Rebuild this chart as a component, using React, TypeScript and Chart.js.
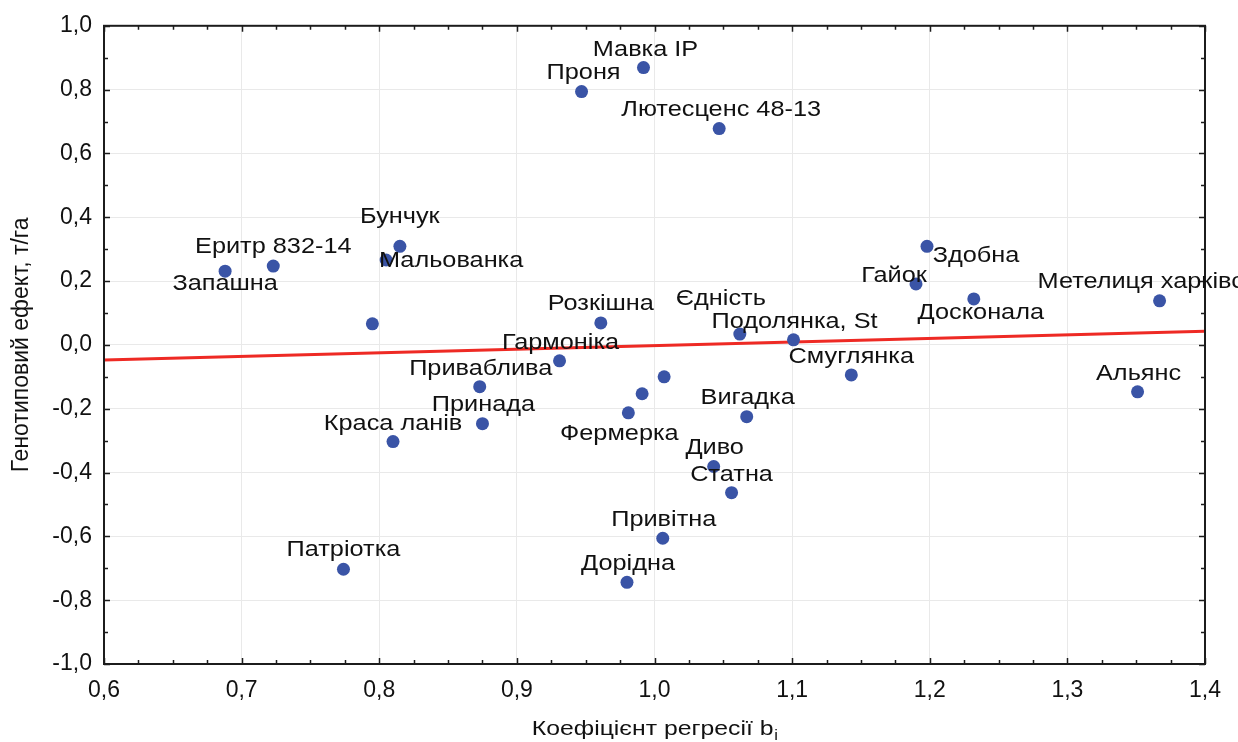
import { useEffect, useRef } from 'react';
import { Chart, registerables } from 'chart.js';

Chart.register(...registerables);

// Variety names (empty string = point without a caption)
const varieties = [
  'Мавка IP', 'Проня', 'Лютесценс 48-13', 'Бунчук', 'Мальованка', 'Еритр 832-14', 'Запашна', '',
  'Розкішна', 'Єдність', 'Подолянка, St', 'Гармоніка', 'Приваблива', 'Принада', 'Краса ланів',
  'Патріотка', '', '', 'Фермерка', 'Вигадка', 'Диво', 'Статна', 'Привітна', 'Дорідна',
  'Смуглянка', 'Альянс', 'Метелиця харківська', 'Здобна', 'Гайок', 'Досконала',
];

// Regression coefficient b_i
const regressionCoef = [
  0.992, 0.947, 1.047, 0.815, 0.805, 0.723, 0.688, 0.795,
  0.961, 1.062, 1.101, 0.931, 0.873, 0.875, 0.810,
  0.774, 1.007, 0.991, 0.981, 1.067, 1.043, 1.056, 1.006, 0.980,
  1.143, 1.351, 1.367, 1.198, 1.190, 1.232,
];

// Genotypic effect, t/ha
const genotypeEffect = [
  0.869, 0.794, 0.678, 0.309, 0.266, 0.247, 0.231, 0.066,
  0.069, 0.034, 0.016, -0.050, -0.131, -0.247, -0.303,
  -0.703, -0.100, -0.153, -0.213, -0.225, -0.381, -0.463, -0.606, -0.744,
  -0.094, -0.147, 0.138, 0.309, 0.191, 0.144,
];

// Fitted trend line
const trendX = [0.6, 1.4];
const trendY = [-0.047, 0.043];

// Axis ranges
const xRange = [0.6, 1.4];
const yRange = [-1.0, 1.0];

// Caption placement relative to each point: [dx, dy, align]
const captionPlacement: [number, number, CanvasTextAlign][] = [
  [2, -18, 'center'], [2, -19, 'center'], [2, -19, 'center'], [0, -29, 'center'],
  [65, 1, 'center'], [0, -19, 'center'], [0, 13, 'center'], [0, 0, 'center'],
  [0, -19, 'center'], [-19, -35, 'center'], [1, -18, 'center'], [1, -18, 'center'],
  [1, -18, 'center'], [1, -19, 'center'], [0, -18, 'center'],
  [0, -19, 'center'], [0, 0, 'center'], [0, 0, 'center'], [-9, 21, 'center'],
  [1, -19, 'center'], [1, -19, 'center'], [0, -18, 'center'], [1, -18, 'center'],
  [1, -18, 'center'], [0, -18, 'center'], [1, -18, 'center'], [-122, -19, 'left'],
  [49, 10, 'center'], [-22, -8, 'center'], [7, 14, 'center'],
];

const FONT = '"Liberation Sans", Arial, sans-serif';
const fmt = (v: number) => (Math.round(v * 10) / 10).toFixed(1).replace('.', ',');

const framePlugin = {
  id: 'frameAndCaptions',
  afterDraw(chart: any) {
    const { ctx, chartArea, scales } = chart;
    const { left, right, top, bottom } = chartArea;
    const xs = scales.x;
    const ys = scales.y;
    ctx.save();

    // frame
    ctx.strokeStyle = '#1c1c1c';
    ctx.lineWidth = 2;
    ctx.strokeRect(left, top, right - left, bottom - top);

    // inward tick marks
    ctx.lineWidth = 1.5;
    ctx.beginPath();
    const nx = Math.round((xRange[1] - xRange[0]) / 0.025);
    for (let i = 0; i <= nx; i++) {
      const px = Math.round(xs.getPixelForValue(xRange[0] + i * 0.025)) + 0.5;
      const len = i % 4 === 0 ? 6 : 4;
      ctx.moveTo(px, bottom);
      ctx.lineTo(px, bottom - len);
      ctx.moveTo(px, top);
      ctx.lineTo(px, top + len);
    }
    const ny = Math.round((yRange[1] - yRange[0]) / 0.1);
    for (let i = 0; i <= ny; i++) {
      const py = Math.round(ys.getPixelForValue(yRange[0] + i * 0.1)) + 0.5;
      const len = i % 2 === 0 ? 6 : 4;
      ctx.moveTo(left, py);
      ctx.lineTo(left + len, py);
      ctx.moveTo(right, py);
      ctx.lineTo(right - len, py);
    }
    ctx.stroke();

    // point captions
    ctx.fillStyle = '#111';
    ctx.font = `22px ${FONT}`;
    ctx.textBaseline = 'middle';
    varieties.forEach((name, i) => {
      if (!name) return;
      const [dx, dy, align] = captionPlacement[i];
      const px = xs.getPixelForValue(regressionCoef[i]) + dx;
      const py = ys.getPixelForValue(genotypeEffect[i]) + dy;
      ctx.save();
      ctx.translate(px, py);
      ctx.scale(1.15, 1);
      ctx.textAlign = align;
      ctx.fillText(name, 0, 0);
      ctx.restore();
    });

    // x axis title with subscript
    const main = 'Коефіцієнт регресії b';
    const sub = 'i';
    ctx.font = `21px ${FONT}`;
    const wMain = ctx.measureText(main).width;
    ctx.font = `14px ${FONT}`;
    const wSub = ctx.measureText(sub).width;
    const stretch = 1.18;
    const cx = (left + right) / 2;
    const total = (wMain + wSub) * stretch;
    ctx.save();
    ctx.translate(cx - total / 2, 729);
    ctx.scale(stretch, 1);
    ctx.textAlign = 'left';
    ctx.font = `21px ${FONT}`;
    ctx.fillText(main, 0, 0);
    ctx.font = `14px ${FONT}`;
    ctx.fillText(sub, wMain + 0.5, 7);
    ctx.restore();

    ctx.restore();
  },
};

export default function App() {
  const canvasRef = useRef<HTMLCanvasElement | null>(null);

  useEffect(() => {
    const canvas = canvasRef.current;
    if (!canvas) return;
    const points = regressionCoef.map((b, i) => ({ x: b, y: genotypeEffect[i] }));
    const trend = trendX.map((x, i) => ({ x, y: trendY[i] }));

    const chart = new Chart(canvas, {
      type: 'scatter',
      data: {
        datasets: [
          {
            label: 'Сорти',
            data: points,
            backgroundColor: '#3a54a6',
            borderWidth: 0,
            pointRadius: 6.5,
            pointHoverRadius: 6.5,
          },
          {
            label: 'Регресія',
            data: trend,
            showLine: true,
            borderColor: '#ee2a24',
            borderWidth: 3,
            pointRadius: 0,
            fill: false,
          } as any,
        ],
      },
      options: {
        responsive: false,
        animation: false,
        layout: { padding: { left: 0, top: 24, right: 33, bottom: 0 } },
        plugins: {
          legend: { display: false },
          tooltip: { enabled: false },
        },
        scales: {
          x: {
            type: 'linear',
            min: xRange[0],
            max: xRange[1],
            afterFit: (s: any) => { s.height = 78; },
            ticks: {
              stepSize: 0.1,
              padding: 13,
              color: '#111',
              font: { family: FONT, size: 23 },
              callback: (v: any) => fmt(Number(v)),
              maxRotation: 0,
            },
            grid: { color: '#e9e9e9', lineWidth: 1, drawTicks: false },
            border: { display: false },
          },
          y: {
            type: 'linear',
            min: yRange[0],
            max: yRange[1],
            afterFit: (s: any) => { s.width = 104; },
            ticks: {
              stepSize: 0.2,
              padding: 12,
              color: '#111',
              font: { family: FONT, size: 23 },
              callback: (v: any) => fmt(Number(v)),
            },
            grid: { color: '#e9e9e9', lineWidth: 1, drawTicks: false },
            border: { display: false },
            title: {
              display: true,
              text: 'Генотиповий ефект, т/га',
              color: '#111',
              font: { family: FONT, size: 23 },
              padding: { top: 8, bottom: 0 },
            },
          },
        },
      },
      plugins: [framePlugin],
    });

    return () => chart.destroy();
  }, []);

  return (
    <div style={{ position: 'fixed', left: 0, top: 0, width: 1238, height: 742, background: '#fff' }}>
      <canvas ref={canvasRef} width={1238} height={742} />
    </div>
  );
}
